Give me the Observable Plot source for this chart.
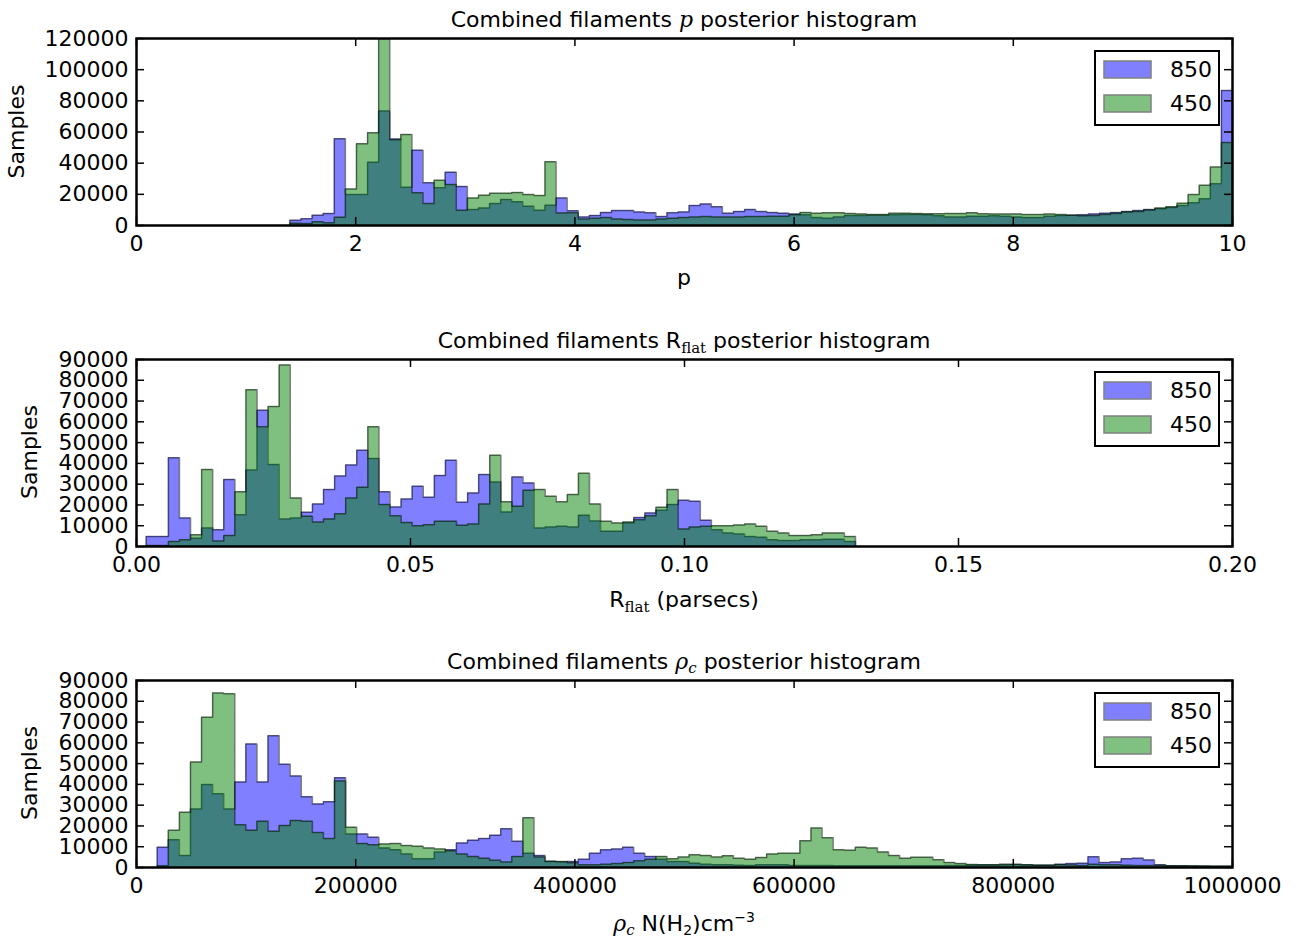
<!DOCTYPE html>
<html><head><meta charset="utf-8">
<script src="https://cdn.jsdelivr.net/npm/d3@7"></script>
<script src="https://cdn.jsdelivr.net/npm/@observablehq/plot@0.6"></script>
<style>
body{margin:0;background:#fff;overflow:hidden}
#root{position:relative;width:1299px;height:940px;background:#fff}
.panel{position:absolute;left:0}
#overlay{position:absolute;left:0;top:0;pointer-events:none}
</style></head>
<body><div id="root"></div>
<script>
// ---- data (histogram counts per bin) ----
const seriesNames = ["850", "450"];
const pRange = [1.40, 10.0];
const p850 = [3400,4300,6600,7700,55600,19900,19900,40600,73400,55500,
 24600,48300,27400,24200,34200,25000,10300,11300,14100,16700,
 15200,12400,9800,13000,17700,9450,5500,6400,8400,9700,
 9700,8600,8200,5800,8200,8600,12900,13800,12100,7900,
 9000,10300,9000,8400,7900,7300,6850,5100,4700,5500,
 6400,6400,6600,6600,6850,7100,7100,6850,6200,5500,
 5500,6000,6000,6200,6000,5500,5100,5100,6000,6400,
 6600,6850,7300,7900,8400,9000,9700,10300,10800,11600,
 12900,14600,17200,26800,86600];
const p450 = [1500,1300,2400,1700,5300,23500,52400,59500,125000,55000,
 58400,21000,14100,29100,26300,9800,17700,19400,20700,20700,
 21200,19900,19300,40900,8100,8150,4250,4700,5100,4250,
 3800,3600,3600,4250,4700,5100,5500,5800,5500,5500,
 5500,5800,5800,6000,6000,6850,8400,7900,8200,8200,
 7700,7300,7100,7100,7900,7900,7700,7500,7500,7700,
 7700,8200,7500,7300,7300,7300,7100,7100,7300,7100,
 6600,6200,6400,7100,7700,8600,9000,9900,11200,12100,
 14200,19900,25900,37600,53300];

const rRange = [0.00177, 0.1312];
const r850 = [4800,4800,42700,13700,4000,8900,8100,32300,15300,36800,
 65600,39500,13200,13700,16500,20500,27400,33900,39200,46300,
 42300,26300,19000,22900,29000,23700,34200,41500,21300,25800,
 34700,31100,16600,33400,30600,8900,9400,9700,9400,15000,
 12300,7300,7300,11300,14000,16100,17400,20200,22300,21800,
 12600,8100,6500,6000,4800,4400,3200,2900,2900,3200,
 3200,3500,3500,2400];
const r450 = [500,500,2400,3200,5600,37100,2700,5300,26300,75500,
 57600,67400,87400,23400,14500,11800,13200,15800,23400,28500,
 57600,20200,14800,11600,10000,10500,12100,12100,10200,10800,
 20500,43900,21500,19400,27100,27400,24200,21500,25000,35200,
 20500,12100,11300,11800,12900,14800,18900,27400,8400,9400,
 9700,10000,10000,10300,10800,9700,7300,6500,5300,5300,
 5600,6500,6500,4800];

const cRange = [18900, 999600];
const c850 = [9700,13400,5800,28200,40000,35500,28200,41100,59400,41100,
 63400,49700,44000,34000,30600,31600,43200,16100,16100,14500,
 9400,8500,6500,4200,4200,7400,8500,11800,13100,13900,
 15500,18700,12600,6900,5800,3000,2700,2900,4000,6900,
 8500,8900,9800,6900,5300,4000,2900,2900,2100,1600,
 1300,1300,1100,1000,1300,1300,1300,1000,1000,1000,
 1000,900,900,900,900,900,900,900,900,900,
 900,1000,1000,1100,1200,1200,1200,1300,1200,1100,
 1100,1600,1900,2000,5200,2400,2600,4200,4500,3600,
 1300,800,700,700,600,600,600];
const c450 = [800,17900,26600,50800,72300,84000,83600,20600,17900,22300,
 17400,20200,22600,22300,16900,13900,41600,19400,11500,11000,
 11300,11500,10600,10200,9400,8900,8100,6500,5300,4500,
 3500,2600,5300,23900,5000,2900,2900,2300,1300,1300,
 1600,1900,2400,3200,4000,5300,4200,5000,6100,5800,
 5000,5600,4500,4000,4800,6500,6900,6900,12900,19000,
 14300,8600,8300,9700,9400,7500,5800,4500,4900,4900,
 3700,2400,1900,1500,1300,1300,1600,1600,1300,1100,
 1100,1300,1200,1000,1600,1300,1300,1100,1000,1000,
 1000,800,800,700,700,650,650];

// ---- ticks ----
const pXTicks = [0, 2, 4, 6, 8, 10];
const pYTicks = [0, 20000, 40000, 60000, 80000, 100000, 120000];
const rXTicks = [0, 0.05, 0.10, 0.15, 0.20];
const cXTicks = [0, 200000, 400000, 600000, 800000, 1000000];
const yTicks90 = [0, 10000, 20000, 30000, 40000, 50000, 60000, 70000, 80000, 90000];

// ---- layout ----
const W = 1299, H = 300, ML = 136, MR = 67, MT = 38, MB = 75, TICK = 8;
const FW = W - ML - MR, FH = H - MT - MB;

function stepPoints(vals, [lo, hi]) {
  const n = vals.length, w = (hi - lo) / n;
  const pts = [{x: lo, y: 0}];
  vals.forEach((v, i) => { pts.push({x: lo + i * w, y: v}); pts.push({x: lo + (i + 1) * w, y: v}); });
  pts.push({x: hi, y: 0});
  return pts;
}
function tickMarks(xt, yt) {
  const o = {stroke: "black", strokeWidth: 1.5};
  return [
    Plot.tickX(xt, {...o, x: d => d, insetTop: FH - TICK}),
    Plot.tickX(xt, {...o, x: d => d, insetBottom: FH - TICK}),
    Plot.tickY(yt, {...o, y: d => d, insetRight: FW - TICK}),
    Plot.tickY(yt, {...o, y: d => d, insetLeft: FW - TICK})
  ];
}
function panel({blue, green, range, xDomain, xTicks, xFormat, yDomain, yTicks}) {
  const b = stepPoints(blue, range), g = stepPoints(green, range);
  return Plot.plot({
    width: W, height: H,
    marginLeft: ML, marginRight: MR, marginTop: MT, marginBottom: MB,
    style: {fontFamily: "'DejaVu Sans', sans-serif", fontSize: "22px", color: "black", background: "transparent", overflow: "visible"},
    x: {domain: xDomain, label: null},
    y: {domain: yDomain, label: null},
    marks: [
      Plot.area(b, {x1: "x", y1: () => 0, y2: "y", fill: "blue", fillOpacity: 0.5, clip: true}),
      Plot.line(b, {x: "x", y: "y", stroke: "black", strokeOpacity: 0.5, strokeWidth: 1.5, clip: true}),
      Plot.area(g, {x1: "x", y1: () => 0, y2: "y", fill: "green", fillOpacity: 0.5, clip: true}),
      Plot.line(g, {x: "x", y: "y", stroke: "black", strokeOpacity: 0.5, strokeWidth: 1.5, clip: true}),
      ...tickMarks(xTicks, yTicks),
      Plot.frame({stroke: "black", strokeWidth: 2.5}),
      Plot.axisX(xTicks, {tickSize: 0, tickPadding: 10, tickFormat: xFormat, label: null}),
      Plot.axisY(yTicks, {tickSize: 0, tickPadding: 8, tickFormat: d => String(d), label: null})
    ]
  });
}

const root = document.getElementById("root");
const specs = [
  {top: 0, blue: p850, green: p450, range: pRange, xDomain: [0, 10], xTicks: pXTicks, xFormat: d => String(d), yDomain: [0, 120000], yTicks: pYTicks},
  {top: 321, blue: r850, green: r450, range: rRange, xDomain: [0, 0.2], xTicks: rXTicks, xFormat: d => d.toFixed(2), yDomain: [0, 90000], yTicks: yTicks90},
  {top: 642, blue: c850, green: c450, range: cRange, xDomain: [0, 1000000], xTicks: cXTicks, xFormat: d => String(d), yDomain: [0, 90000], yTicks: yTicks90}
];
for (const s of specs) {
  const el = panel(s);
  el.classList.add("panel");
  el.style.position = "absolute";
  el.style.top = s.top + "px";
  el.style.left = "0px";
  root.appendChild(el);
}

// ---- overlay: titles, axis labels, legends ----
const SERIF = "'DejaVu Serif', serif";
let svg = `<svg id="overlay" width="1299" height="940" xmlns="http://www.w3.org/2000/svg" font-family="'DejaVu Sans', sans-serif" font-size="22" fill="black">`;
svg += `<text x="684" y="27" text-anchor="middle">Combined filaments <tspan font-family="${SERIF}" font-style="italic">p</tspan> posterior histogram</text>`;
svg += `<text x="684" y="348" text-anchor="middle">Combined filaments R<tspan font-family="${SERIF}" font-size="15" dy="5">flat</tspan><tspan dy="-5"> posterior histogram</tspan></text>`;
svg += `<text x="684" y="669" text-anchor="middle">Combined filaments <tspan font-family="${SERIF}" font-style="italic">ρ</tspan><tspan font-family="${SERIF}" font-style="italic" font-size="15" dy="4">c</tspan><tspan dy="-4"> posterior histogram</tspan></text>`;
svg += `<text x="684" y="285" text-anchor="middle">p</text>`;
svg += `<text x="684" y="607" text-anchor="middle">R<tspan font-family="${SERIF}" font-size="15" dy="5">flat</tspan><tspan dy="-5"> (parsecs)</tspan></text>`;
svg += `<text x="684" y="931" text-anchor="middle"><tspan font-family="${SERIF}" font-style="italic">ρ</tspan><tspan font-family="${SERIF}" font-style="italic" font-size="15" dy="4">c</tspan><tspan dy="-4"> N(H</tspan><tspan font-size="14" dy="4">2</tspan><tspan dy="-4">)cm</tspan><tspan font-size="14" dy="-9">−3</tspan></text>`;
const ylabPos = [[24, 131.5], [37, 452], [37, 773]];
for (const [x, y] of ylabPos) svg += `<text transform="translate(${x},${y}) rotate(-90)" text-anchor="middle">Samples</text>`;
const legendColors = ["#8080ff", "#80c080"];
for (const s of specs) {
  const t = s.top;
  svg += `<rect x="1095" y="${t + 51}" width="124" height="74" fill="white" stroke="black" stroke-width="2"/>`;
  seriesNames.forEach((name, i) => {
    const yy = t + 61 + i * 34;
    svg += `<rect x="1104" y="${yy}" width="47" height="17" fill="${legendColors[i]}" stroke="#808080" stroke-width="1.5"/>`;
    svg += `<text x="1212" y="${yy + 16}" text-anchor="end">${name}</text>`;
  });
}
svg += `</svg>`;
root.insertAdjacentHTML("beforeend", svg);
</script>
</body></html>
